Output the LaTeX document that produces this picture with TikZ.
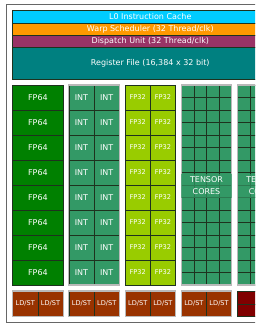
\documentclass[tikz,border=0pt]{standalone}
\usepackage{fontspec}
\setmainfont{DejaVu Sans}
\usetikzlibrary{positioning}
\definecolor{cachecyan}{RGB}{0,204,255}
\definecolor{warporange}{RGB}{255,153,0}
\definecolor{dispatchplum}{RGB}{153,51,102}
\definecolor{regteal}{RGB}{0,128,128}
\definecolor{fpdgreen}{RGB}{0,128,0}
\definecolor{intgreen}{RGB}{51,153,102}
\definecolor{fpslime}{RGB}{153,204,0}
\definecolor{ldstrust}{RGB}{153,51,0}
\definecolor{sfured}{RGB}{128,0,0}
\definecolor{edgedark}{RGB}{30,50,30}
\newcommand{\smtext}{\fontsize{8}{12}\selectfont}
\newcommand{\tinytext}{\fontsize{6.6}{8}\selectfont}

\begin{document}
\begin{tikzpicture}[x=1pt,y=-1pt,
    every node/.style={inner sep=0pt, outer sep=0pt, font=\smtext, text=white},
    bar/.style={draw=edgedark, line width=0.6pt, minimum width=275.2pt, minimum height=12.3pt},
    fullcell/.style={draw=edgedark, line width=0.6pt, anchor=north west,
                     minimum width=50.4pt, minimum height=25pt},
    halfcell/.style={draw=edgedark, line width=0.6pt, anchor=north west,
                     minimum width=25.2pt, minimum height=25pt},
    unitframe/.style={draw=gray!55, line width=1.1pt}]
  \useasboundingbox (0,0) rectangle (255,330);
  \clip (0,0) rectangle (255,330);
  \fill[white] (0,0) rectangle (255,330);
  \draw[gray!80!black, line width=0.9pt] (6,4) rectangle (294,322.7);
  %---- Front end: cache, scheduler, dispatch, register file ------------------
  \node[bar, anchor=north west, fill=cachecyan] (cache) at (12.7,10.7)
    {L0 Instruction Cache};
  \node[bar, below=0pt of cache, fill=warporange] (warp)
    {Warp Scheduler (32 Thread/clk)};
  \node[bar, below=0pt of warp, fill=dispatchplum] (dispatch)
    {Dispatch Unit (32 Thread/clk)};
  \node[bar, below=0pt of dispatch, fill=regteal, minimum height=32pt] (regfile)
    {Register File (16,384 x 32 bit)};
  %---- FP64, INT and FP32 columns --------------------------------------------
  \foreach \r [evaluate=\r as \y using 85+25*\r] in {0,...,7}{
    \node[fullcell, fill=fpdgreen] (fp64-\r) at (12.7,\y) {FP64};
    \node[halfcell, fill=intgreen] (intL-\r) at (68.9,\y) {INT};
    \node[halfcell, fill=intgreen] (intR-\r) at (94.1,\y) {INT};
    \node[halfcell, fill=fpslime, font=\tinytext] (fp32L-\r) at (125.1,\y) {FP32};
    \node[halfcell, fill=fpslime, font=\tinytext] (fp32R-\r) at (150.3,\y) {FP32};
  }
  \draw[unitframe] (intL-0.north west) rectangle (intR-7.south east);
  %---- Tensor cores -----------------------------------------------------------
  \foreach \t/\x in {1/181.3, 2/237.5}{
    \node[fullcell, fill=intgreen, minimum height=200pt] (tensor\t) at (\x,85) {};
    \foreach \c in {1,2,3}
      \draw[edgedark, line width=0.6pt] ({\x+12.6*\c},85) -- ({\x+12.6*\c},285);
    \foreach \k in {1,...,15}
      \draw[edgedark, line width=0.6pt] (\x,{85+12.5*\k}) -- ({\x+50.4},{85+12.5*\k});
    \draw[unitframe] (tensor\t.north west) rectangle (tensor\t.south east);
    \node[fill=intgreen, fill opacity=0.7, text opacity=1, align=center,
          minimum width=50.4pt, minimum height=24pt] (tlabel\t) at ({\x+25.2},185.5)
      {TENSOR\\CORES};
  }
  %---- Load/store units and SFU ----------------------------------------------
  \foreach \k/\x in {0/12.7, 1/68.9, 2/125.1, 3/181.3}{
    \node[halfcell, fill=ldstrust, minimum height=25.6pt, font=\tinytext]
      (ldstL-\k) at (\x,291) {LD/ST};
    \node[halfcell, fill=ldstrust, minimum height=25.6pt, font=\tinytext]
      (ldstR-\k) at ({\x+25.2},291) {LD/ST};
    \draw[unitframe] (ldstL-\k.north west) rectangle (ldstR-\k.south east);
  }
  \node[fullcell, fill=sfured, minimum height=12.8pt] (sfuA) at (237.5,291) {};
  \node[fullcell, fill=sfured, minimum height=12.8pt] (sfuB) at (237.5,303.8) {};
\end{tikzpicture}
\end{document}
